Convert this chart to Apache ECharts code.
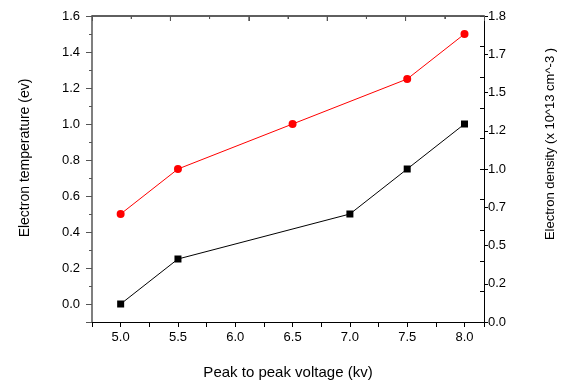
<!DOCTYPE html>
<html>
<head>
<meta charset="utf-8">
<script src="https://cdn.jsdelivr.net/npm/echarts@6/dist/echarts.min.js"></script>
<style>
html,body{margin:0;padding:0;background:#fff;}
#chart{width:564px;height:385px;}
</style>
</head>
<body>
<div id="chart"></div>
<script>
// Data
const voltageBlack = [5.0, 5.5, 7.0, 7.5, 8.0];
const temperature = [0.0, 0.25, 0.5, 0.75, 1.0];
const voltageRed = [5.0, 5.5, 6.5, 7.5, 8.0];
const density = [0.5, 0.75, 1.0, 1.25, 1.5];
const xTickLabels = ['5.0', '5.5', '6.0', '6.5', '7.0', '7.5', '8.0'];
const leftTickLabels = ['0.0', '0.2', '0.4', '0.6', '0.8', '1.0', '1.2', '1.4', '1.6'];
const rightTickLabels = ['0.0', '0.2', '0.5', '0.7', '1.0', '1.2', '1.5', '1.7', '1.8'];

const xTitle = 'Peak to peak voltage (kv)';
const leftTitle = 'Electron temperature (ev)';
const rightTitle = 'Electron density (x 10^13 cm^-3 )';

const FONT = '"Liberation Sans", Arial, sans-serif';
const X_MIN = 4.75, X_MAX = 8.17, Y_MIN = -0.1, Y_MAX = 1.6;

function xLabel(v) {
  const k = Math.round((v - 5.0) / 0.5);
  if (Math.abs(v - (5.0 + k * 0.5)) < 1e-6 && k >= 0 && k < xTickLabels.length) return xTickLabels[k];
  return '';
}
function leftLabel(v) {
  const k = Math.round(v / 0.2);
  if (Math.abs(v - k * 0.2) < 1e-6 && k >= 0 && k < leftTickLabels.length) return leftTickLabels[k];
  return '';
}
function rightLabel(v) {
  const k = Math.round(v);
  return rightTickLabels[k] !== undefined ? rightTickLabels[k] : '';
}

const chart = echarts.init(document.getElementById('chart'), null, {renderer: 'canvas'});
const labelStyle = {color: '#000', fontFamily: FONT, fontSize: 13};

const titleGraphics = [
  {type: 'text', x: 288, y: 373, style: {text: xTitle, font: '15px ' + FONT, fill: '#000', align: 'center', verticalAlign: 'middle'}},
  {type: 'text', x: 25, y: 158, rotation: Math.PI / 2, style: {text: leftTitle, font: '14px ' + FONT, fill: '#000', align: 'center', verticalAlign: 'middle'}},
  {type: 'text', x: 550, y: 144, rotation: Math.PI / 2, style: {text: rightTitle, font: '13px ' + FONT, fill: '#000', align: 'center', verticalAlign: 'middle'}}
];

chart.setOption({
  backgroundColor: '#fff',
  animation: false,
  grid: {left: 92, right: 80, top: 16, bottom: 63, containLabel: false},
  xAxis: [
    {
      type: 'value', position: 'bottom', min: X_MIN, max: X_MAX, interval: 0.25,
      axisLine: {show: true, onZero: false, lineStyle: {color: '#000', width: 1}},
      axisTick: {show: true, inside: false, length: 5, lineStyle: {color: '#000'}},
      axisLabel: {formatter: xLabel, margin: 9, ...labelStyle},
      splitLine: {show: false}
    },
    {
      type: 'value', show: true, position: 'top', min: 0, max: 10, interval: 2,
      axisLine: {show: true, onZero: false, lineStyle: {color: '#555', width: 1.5}},
      axisTick: {show: true, inside: true, length: 5, lineStyle: {color: '#555', width: 1}},
      minorTick: {show: true, splitNumber: 2, length: 3, lineStyle: {color: '#555', width: 1}},
      axisLabel: {show: false},
      splitLine: {show: false}
    }
  ],
  yAxis: [
    {
      type: 'value', position: 'left', min: Y_MIN, max: Y_MAX, interval: 0.1,
      axisLine: {show: true, onZero: false, lineStyle: {color: '#555', width: 1.5}},
      axisTick: {show: true, inside: false, length: 3, lineStyle: {color: '#555'}},
      axisLabel: {formatter: leftLabel, margin: 12, ...labelStyle},
      splitLine: {show: false}
    },
    {
      // major tick helper for left axis (inverse, counts down from 1.6)
      type: 'value', position: 'left', min: 0, max: 1.7, interval: 0.2, inverse: true,
      axisLine: {show: false, onZero: false},
      axisTick: {show: true, inside: false, length: 6, lineStyle: {color: '#555'}},
      axisLabel: {show: false},
      splitLine: {show: false}
    },
    {
      type: 'value', position: 'right', min: 0, max: 8, interval: 1,
      axisLine: {show: true, onZero: false, lineStyle: {color: '#000', width: 1}},
      axisTick: {show: true, inside: false, length: 4, lineStyle: {color: '#000'}},
      axisLabel: {formatter: rightLabel, margin: 4, ...labelStyle},
      splitLine: {show: false}
    },
    {
      type: 'value', position: 'right', min: 0, max: 10, interval: 1,
      axisLine: {show: false, onZero: false},
      axisTick: {show: true, inside: true, length: 4, lineStyle: {color: '#000'}},
      axisLabel: {show: false},
      splitLine: {show: false}
    }
  ],
  series: [
    {
      type: 'line', xAxisIndex: 0, yAxisIndex: 0,
      data: voltageBlack.map((x, i) => [x, temperature[i]]),
      symbol: 'rect', symbolSize: 7,
      lineStyle: {color: '#000', width: 1},
      itemStyle: {color: '#000'}
    },
    {
      type: 'line', xAxisIndex: 0, yAxisIndex: 0,
      data: voltageRed.map((x, i) => [x, density[i]]),
      symbol: 'circle', symbolSize: 8,
      lineStyle: {color: '#ff0000', width: 1},
      itemStyle: {color: '#ff0000'}
    }
  ],
  graphic: titleGraphics
});

// Top frame line (fallback), located through the library's own coordinate conversion
const pA = chart.convertToPixel({xAxisIndex: 0, yAxisIndex: 0}, [X_MIN, Y_MAX]);
const pB = chart.convertToPixel({xAxisIndex: 0, yAxisIndex: 0}, [X_MAX, Y_MAX]);
const frame = [{
  type: 'line', z: 100,
  shape: {x1: pA[0], y1: pA[1], x2: pB[0], y2: pB[1]},
  style: {stroke: '#555', lineWidth: 1.5}
}];
for (let k = 1; k < 10; k++) {
  const px = pA[0] + (pB[0] - pA[0]) * k / 10;
  frame.push({
    type: 'line', z: 100,
    shape: {x1: px, y1: pA[1], x2: px, y2: pA[1] + (k % 2 === 0 ? 5 : 3)},
    style: {stroke: '#555', lineWidth: 1}
  });
}
chart.setOption({graphic: titleGraphics.concat(frame)});
</script>
</body>
</html>
